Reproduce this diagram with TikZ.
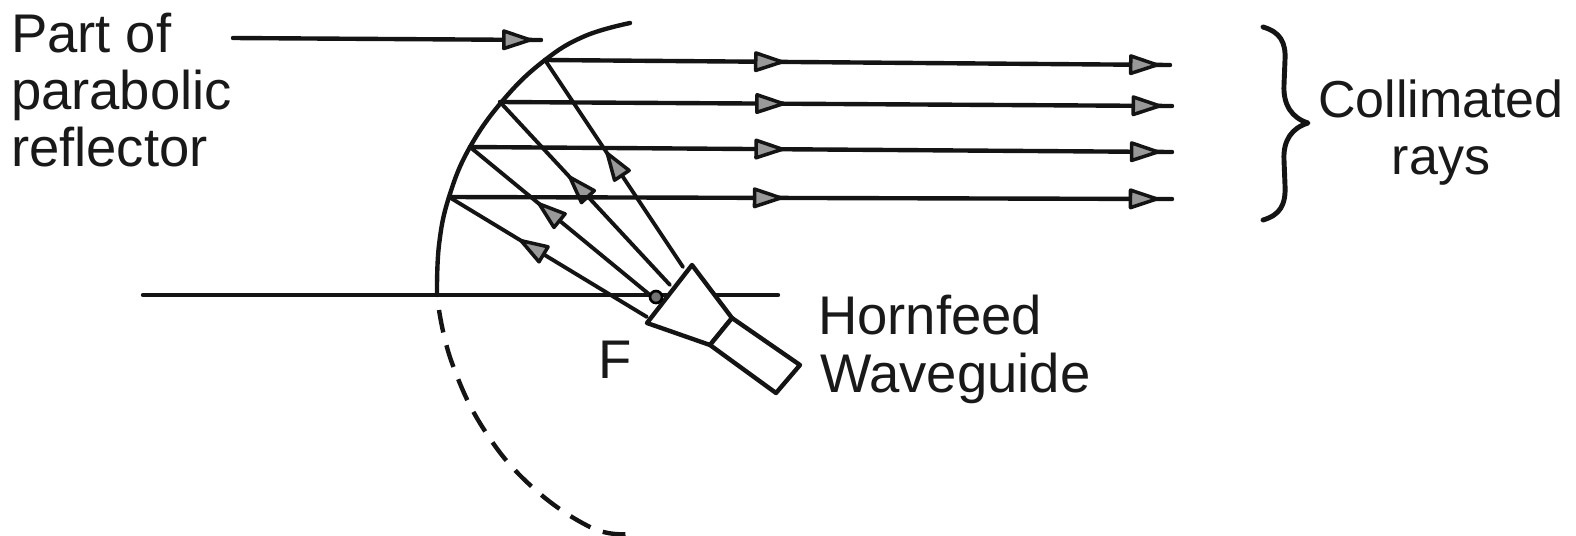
\documentclass[tikz,border=0pt]{standalone}
\usepackage{fontspec}
\setmainfont{Liberation Sans}
\usetikzlibrary{decorations.markings}
\newcommand{\headtip}{\draw[line width=2pt,line join=round,fill=black!40] (-1pt,-5pt) -- (14pt,0pt) -- (-1pt,5pt) -- cycle;}
\tikzset{
  x=0.02cm,y=-0.02cm,
  ln/.style={line width=2.5pt,black!92,line cap=round,line join=round},
  thin ln/.style={line width=2.2pt,black!92,line cap=round,line join=round},
  lab/.style={font=\fontsize{31}{32.4}\selectfont,text=black!90,inner sep=0pt,outer sep=0pt},
  head at/.style={postaction={decorate,decoration={markings,mark=at position #1 with {\headtip}}}},
}
\begin{document}
\begin{tikzpicture}
\useasboundingbox[fill=white] (0,0) rectangle (1576,535);
% reflection points and free ends
\coordinate (P1) at (545,60);
\coordinate (P2) at (500,102);
\coordinate (P3) at (470,147);
\coordinate (P4) at (449,197);
\coordinate (E1) at (1170,65);
\coordinate (E2) at (1172,106);
\coordinate (E3) at (1172,152);
\coordinate (E4) at (1172,199);
\coordinate (H1) at (683,267);
\coordinate (H2) at (670,285);
\coordinate (H3) at (650,295);
\coordinate (H4) at (647,317);
\coordinate (AL) at (143,295);
\coordinate (AR) at (778,295);
\coordinate (LS) at (233,38);
\coordinate (LE) at (541,40);
% axis
\draw[ln] (AL) -- (AR);
% reflector
\draw[ln] plot[smooth,tension=0.7] coordinates {(630,23) (585,36) (545,60) (505,98) (470,147) (449,197) (439,245) (437,295)};
\draw[ln,line cap=butt,dash pattern=on 13pt off 7.5pt] plot[smooth,tension=0.7] coordinates {(439,310) (452,363) (483,428) (530,485) (590,527) (628,534)};
% rays to the reflector
\draw[thin ln,head at=0.45] (H1) -- (P1);
\draw[thin ln,head at=0.49] (H2) -- (P2);
\draw[thin ln,head at=0.51] (H3) -- (P3);
\draw[thin ln,head at=0.53] (H4) -- (P4);
% collimated rays
\draw[ln,head at=0.34,head at=0.94] (P1) -- (E1);
\draw[ln,head at=0.385,head at=0.945] (P2) -- (E2);
\draw[ln,head at=0.41,head at=0.945] (P3) -- (E3);
\draw[ln,head at=0.425,head at=0.945] (P4) -- (E4);
% pointer
\draw[ln,head at=0.885] (LS) -- (LE);
% horn and waveguide
\draw[ln,fill=white] (692,265) -- (732,318) -- (710,345) -- (647,323) -- cycle;
\draw[ln,fill=white] (732,318) -- (800,365) -- (776,393) -- (710,345) -- cycle;
\filldraw[line width=1.5pt,fill=black!55] (656,297) circle[radius=6];
% brace
\draw[ln,line width=2.8pt] (1263,27) .. controls (1280,32) and (1286,42) .. (1285,60)
  -- (1284,85) .. controls (1283,105) and (1292,118) .. (1308,123)
  .. controls (1292,128) and (1283,140) .. (1284,160)
  -- (1285,185) .. controls (1286,205) and (1280,215) .. (1263,220);
% labels
\node[lab,align=left,anchor=west] (partlabel) at (11,90) {Part of\\parabolic\\reflector};
\node[lab,font=\fontsize{29.6}{32.4}\selectfont,align=center,anchor=north] (collabel) at (1441,80) {Collimated\\rays};
\node[lab,anchor=base west] (hornlabel) at (818,334) {Hornfeed};
\node[lab,anchor=base west] (wavelabel) at (820,392) {Waveguide};
\node[lab,anchor=base west] (flabel) at (598,378) {F};
\end{tikzpicture}
\end{document}
